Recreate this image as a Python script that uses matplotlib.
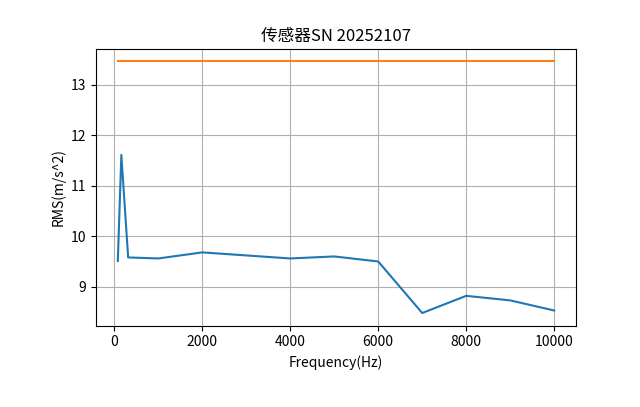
import matplotlib
matplotlib.use('Agg')
import matplotlib.pyplot as plt

plt.rcParams['font.family'] = ['Noto Sans CJK SC', 'DejaVu Sans']
plt.rcParams['axes.unicode_minus'] = False

# Measured data
freqs = [80, 160, 315, 1000, 2000, 4000, 5000, 6000, 7000, 8000, 9000, 10000]
rms = [9.51, 11.61, 9.58, 9.56, 9.68, 9.56, 9.60, 9.50, 8.48, 8.82, 8.73, 8.53]

# Limit line
limit_freqs = [80, 10000]
limit_rms = [13.46, 13.46]

fig = plt.figure(figsize=(6.4, 4.07), dpi=100)
plt.subplots_adjust(left=0.15, right=0.9, top=0.88, bottom=0.2)
plt.plot(freqs, rms)
plt.plot(limit_freqs, limit_rms)
plt.title('传感器SN 20252107')
plt.xlabel('Frequency(Hz)')
plt.ylabel('RMS(m/s^2)')
plt.grid(True)

plt.savefig('out.png', dpi=100)
